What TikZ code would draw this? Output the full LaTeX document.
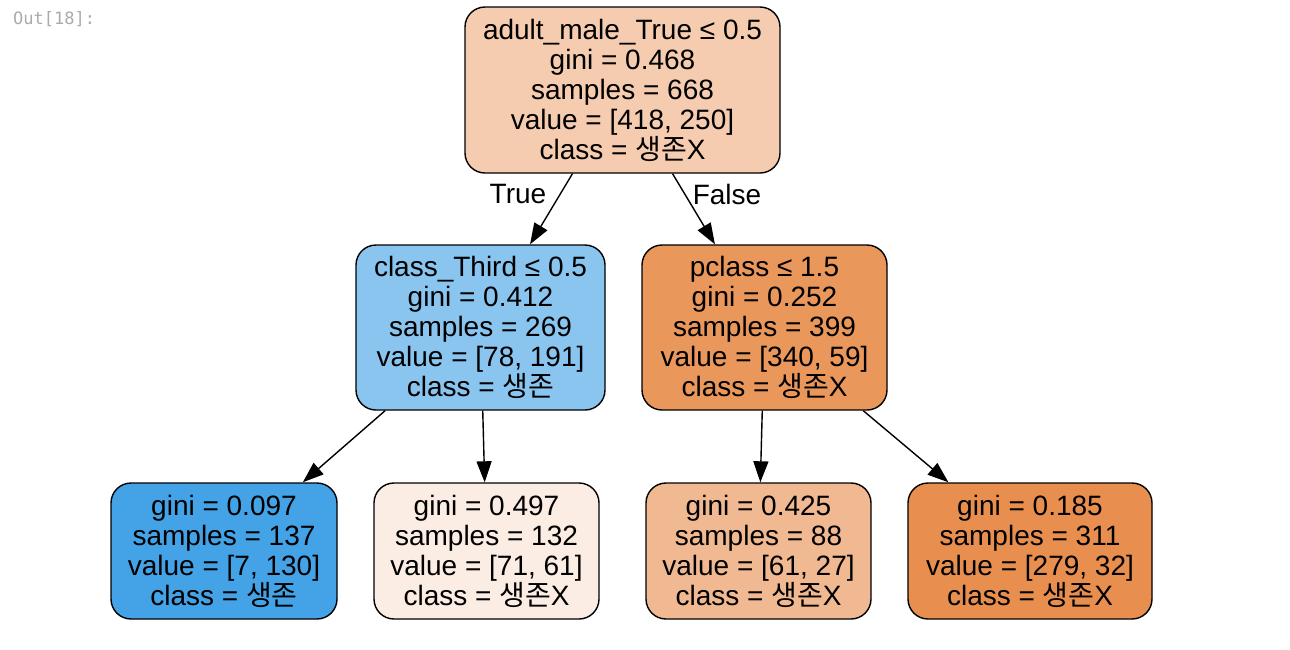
\documentclass[tikz,border=0pt]{standalone}
\usepackage{fontspec}
\setmainfont{Liberation Sans}
\newfontfamily\kr{Noto Sans CJK KR}
\newfontfamily\outfont{DejaVu Sans Mono}
\usetikzlibrary{arrows.meta}
\newcommand{\ksj}{{\kr 생존}}
\definecolor{cRoot}{RGB}{245,204,175}
\definecolor{cL}{RGB}{138,197,240}
\definecolor{cR}{RGB}{234,151,91}
\definecolor{cLL}{RGB}{68,162,230}
\definecolor{cLR}{RGB}{251,237,227}
\definecolor{cRL}{RGB}{240,185,145}
\definecolor{cRR}{RGB}{232,143,80}
\definecolor{outgray}{RGB}{170,170,170}
\begin{document}
\begin{tikzpicture}[x=1pt,y=-1pt,
  tnode/.style={draw=black, line width=1.4pt, rounded corners=20pt, align=center,
    font=\fontsize{28}{30}\selectfont, inner sep=0pt},
  inner/.style={tnode, minimum height=165pt},
  leaf/.style={tnode, minimum height=136pt},
  edge/.style={line width=1.4pt, -{Triangle[length=21pt,width=15pt]}},
  elabel/.style={font=\fontsize{28}{30}\selectfont, inner sep=0pt}]
\fill[white] (0,0) rectangle (1290,649);
\useasboundingbox (0,0) rectangle (1290,649);
\node[anchor=west, font=\outfont\fontsize{17}{18}\selectfont, text=outgray, inner sep=0pt] (out) at (13,19) {Out[18]:};
\node[inner, fill=cRoot, minimum width=315pt, minimum height=166pt] (root) at (622.5,90)
  {adult\_male\_True ≤ 0.5\\gini = 0.468\\samples = 668\\value = [418, 250]\\class = \ksj X};
\node[inner, fill=cL, minimum width=249pt] (l) at (480.5,327.5)
  {class\_Third ≤ 0.5\\gini = 0.412\\samples = 269\\value = [78, 191]\\class = \ksj};
\node[inner, fill=cR, minimum width=245pt] (r) at (764.5,327.5)
  {pclass ≤ 1.5\\gini = 0.252\\samples = 399\\value = [340, 59]\\class = \ksj X};
\node[leaf, fill=cLL, minimum width=226pt] (ll) at (224,551)
  {gini = 0.097\\samples = 137\\value = [7, 130]\\class = \ksj};
\node[leaf, fill=cLR, minimum width=225pt] (lr) at (486.5,551)
  {gini = 0.497\\samples = 132\\value = [71, 61]\\class = \ksj X};
\node[leaf, fill=cRL, minimum width=225pt] (rl) at (758.5,551)
  {gini = 0.425\\samples = 88\\value = [61, 27]\\class = \ksj X};
\node[leaf, fill=cRR, minimum width=244pt] (rr) at (1030,551)
  {gini = 0.185\\samples = 311\\value = [279, 32]\\class = \ksj X};
\draw[edge] (root) -- (l);
\draw[edge] (root) -- (r);
\draw[edge] (l) -- (ll);
\draw[edge] (l) -- (lr);
\draw[edge] (r) -- (rl);
\draw[edge] (r) -- (rr);
\node[elabel] (tl) at (518,194) {True};
\node[elabel] (fl) at (727,194) {False};
\end{tikzpicture}
\end{document}
